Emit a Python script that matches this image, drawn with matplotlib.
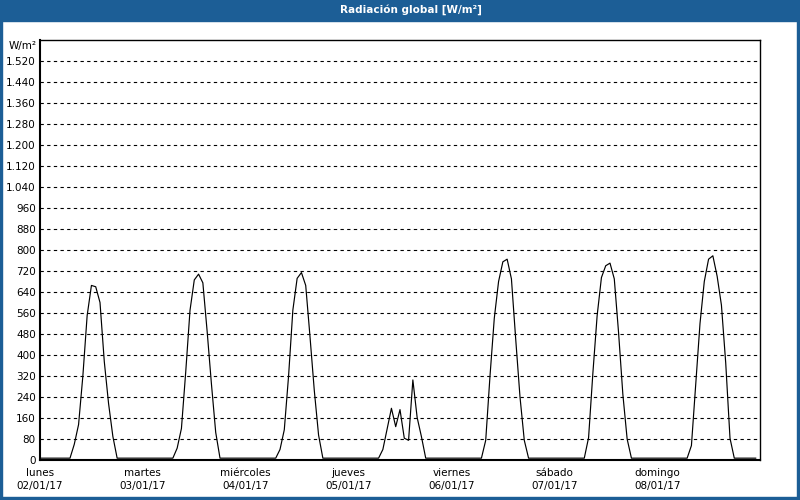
import matplotlib.pyplot as plt
from matplotlib.patches import Rectangle
import numpy as np

# hourly global radiation, W/m2, one list per day (hours 0..23)
lunes     = [7]*7 + [7, 60, 135, 320, 550, 665, 660, 600, 375, 215, 90, 7] + [7]*5
martes    = [7]*7 + [7, 45, 120, 335, 570, 686, 708, 675, 490, 290, 105, 7] + [7]*5
miercoles = [7]*7 + [7, 40, 115, 320, 571, 692, 714, 665, 470, 265, 95, 7] + [7]*5
jueves    = [7]*7 + [7, 40, 118, 197, 127, 192, 83, 75, 305, 162, 89, 7] + [7]*5
viernes   = [7]*7 + [7, 75, 320, 540, 680, 755, 765, 690, 460, 240, 75, 7] + [7]*5
sabado    = [7]*7 + [7, 85, 330, 550, 695, 740, 750, 690, 485, 250, 80, 7] + [7]*5
domingo   = [7]*7 + [7, 55, 285, 520, 680, 765, 778, 700, 590, 370, 83, 7] + [7]*5

radiation = lunes + martes + miercoles + jueves + viernes + sabado + domingo
hours = np.arange(len(radiation))

day_names = ["lunes", "martes", "miércoles", "jueves", "viernes", "sábado", "domingo"]
day_dates = ["02/01/17", "03/01/17", "04/01/17", "05/01/17", "06/01/17", "07/01/17", "08/01/17"]
y_ticks = list(range(0, 1600, 80))

blue = "#1c5e96"
plt.rcParams['font.family'] = ['DejaVu Sans']

fig = plt.figure(figsize=(8, 5), dpi=100)
fig.patch.set_facecolor("white")

# window frame
fig.patches.append(Rectangle((0, 479/500), 1, 21/500, transform=fig.transFigure, color=blue, zorder=0))
fig.patches.append(Rectangle((0, 0), 2/800, 1, transform=fig.transFigure, color=blue, zorder=0))
fig.patches.append(Rectangle((797/800, 0), 3/800, 1, transform=fig.transFigure, color=blue, zorder=0))
fig.patches.append(Rectangle((0, 0), 1, 3/500, transform=fig.transFigure, color=blue, zorder=0))
fig.text(411/800, 1 - 10/500, "Radiación global [W/m²]", color="white", fontsize=7.5,
         fontweight="bold", ha="center", va="center")

ax = fig.add_axes([40/800, 40/500, 720/800, 420/500])
ax.plot(hours, radiation, color="black", linewidth=0.85)

ax.set_xlim(0, 168)
ax.set_ylim(0, 1600)
ax.set_yticks(y_ticks)
ax.set_yticklabels([f"{v:,}".replace(",", ".") for v in y_ticks])
ax.set_xticks(range(0, 168, 24))
ax.set_xticklabels([n + "\n" + d for n, d in zip(day_names, day_dates)], linespacing=1.35)
ax.set_xticks(range(24, 168, 24), minor=True)

ax.tick_params(axis="both", length=0, labelsize=7.5, colors="black")
ax.tick_params(axis="y", pad=3)
ax.tick_params(axis="x", pad=6)

ax.grid(axis="y", color="black", linestyle=(0, (3, 3)), linewidth=0.8)
ax.grid(axis="x", which="minor", color="black", linestyle=(0, (3, 3)), linewidth=0.8)

for side in ["left", "bottom"]:
    ax.spines[side].set_linewidth(1.5)
for side in ["top", "right"]:
    ax.spines[side].set_linewidth(1)

fig.text(37/800, 1 - 46/500, "W/m²", fontsize=7.5, ha="right", va="center")

fig.savefig("out.png", dpi=100)
